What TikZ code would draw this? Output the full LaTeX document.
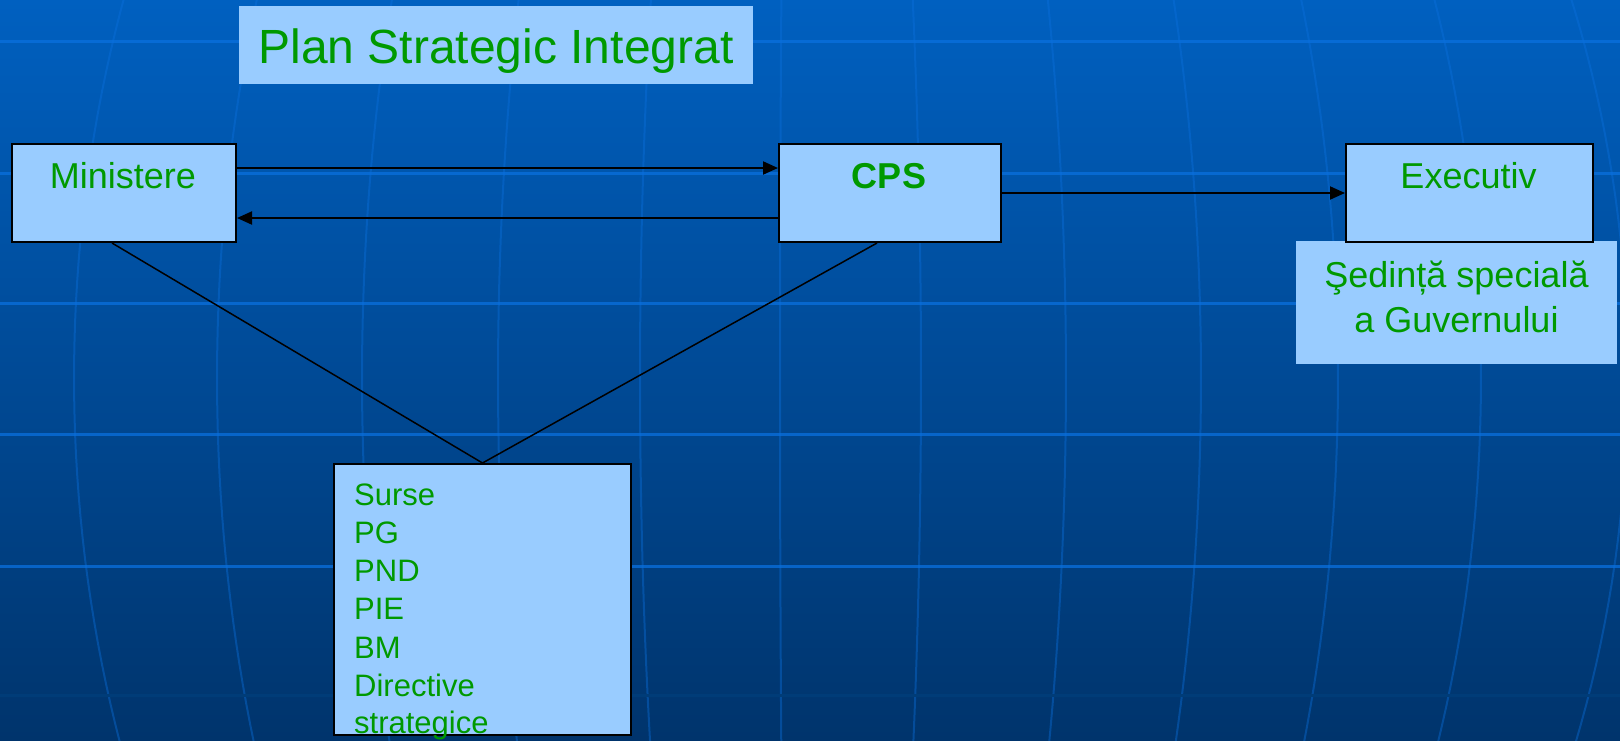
\documentclass[tikz,border=0pt]{standalone}
\usepackage{fontspec}
\setmainfont{Liberation Sans}
\usetikzlibrary{arrows.meta}
\definecolor{bgtop}{RGB}{0,96,192}
\definecolor{bgmid}{RGB}{0,80,160}
\definecolor{bgbot}{RGB}{0,52,108}
\definecolor{gridc}{RGB}{10,112,222}
\definecolor{gapc}{RGB}{0,60,120}
\definecolor{boxfill}{RGB}{153,204,255}
\definecolor{txtgreen}{RGB}{0,153,0}
\tikzset{
  boxsty/.style={draw=black, line width=2pt, fill=boxfill, inner sep=0pt, anchor=north west},
  plainbox/.style={fill=boxfill, inner sep=0pt, anchor=north west},
  lbl/.style={text=txtgreen, inner sep=0pt, anchor=base, font=\fontsize{36}{43}\selectfont},
  srclbl/.style={text=txtgreen, inner sep=0pt, anchor=base west, font=\fontsize{31}{38}\selectfont},
  arr/.style={draw=black, line width=2pt, -{Triangle[length=15pt,width=13pt]}},
  link/.style={draw=black, line width=1.5pt},
  hline/.style={draw=gridc, line width=3pt, opacity=0.75},
  vline/.style={draw=gridc, line width=2pt, opacity=0.4},
}
\begin{document}
\begin{tikzpicture}[x=1pt,y=-1pt]
\useasboundingbox (0,0) rectangle (1620,740);
\shade[top color=bgtop, middle color=bgmid, bottom color=bgbot] (0,0) rectangle (1620,740);
\begin{scope}
\clip (0,0) rectangle (1620,740);
\foreach \xm in {74,217,362,498,640,780,921,1066,1201,1338,1481,1628} {
  \draw[vline] plot[domain=-23:23, samples=40, variable=\t] ({800+(\xm-800)*cos(\t)},{378+1042*sin(\t)});
}
\foreach \yy in {41,173,303,434,566} {
  \draw[hline] (0,\yy) -- (1620,\yy);
}
\draw[draw=gapc, line width=3pt] (0,695) -- (1620,695);
\end{scope}

% title
\node[plainbox, minimum width=514pt, minimum height=78pt] (titlebox) at (239,6) {};
\node[lbl, font=\fontsize{48}{58}\selectfont] (title) at (496,63) {Plan Strategic Integrat};

% boxes
\node[boxsty, minimum width=224pt, minimum height=98pt] (min) at (11,143) {};
\node[lbl] (mint) at (123,188) {Ministere};
\node[boxsty, minimum width=222pt, minimum height=98pt] (cps) at (778,143) {};
\node[lbl, font=\fontsize{36}{43}\selectfont\bfseries] (cpst) at (889,188) {CPS};
\node[plainbox, minimum width=321pt, minimum height=123pt] (sed) at (1296,241) {};
\node[boxsty, minimum width=247pt, minimum height=98pt] (exe) at (1345,143) {};
\node[lbl] (exet) at (1468.5,188) {Executiv};
\node[lbl] (sed1) at (1456.5,287) {Şedinț\u{a} special\u{a}};
\node[lbl] (sed2) at (1456.5,332) {a Guvernului};
\node[boxsty, minimum width=297pt, minimum height=271pt] (src) at (333,463) {};
\node[srclbl] (s1) at (354,505) {Surse};
\node[srclbl] (s2) at (354,543) {PG};
\node[srclbl] (s3) at (354,581) {PND};
\node[srclbl] (s4) at (354,619) {PIE};
\node[srclbl] (s5) at (354,658) {BM};
\node[srclbl] (s6) at (354,696) {Directive};
\node[srclbl] (s7) at (354,733) {strategice};

% connectors
\draw[arr] ([yshift=25pt]min.east) -- ([yshift=25pt]cps.west);
\draw[arr] ([yshift=-25pt]cps.west) -- ([yshift=-25pt]min.east);
\draw[arr] (cps.east) -- (exe.west);
\draw[link] ([xshift=-12pt]min.south) -- (src.north);
\draw[link] ([xshift=-13pt]cps.south) -- (src.north);
\end{tikzpicture}
\end{document}
